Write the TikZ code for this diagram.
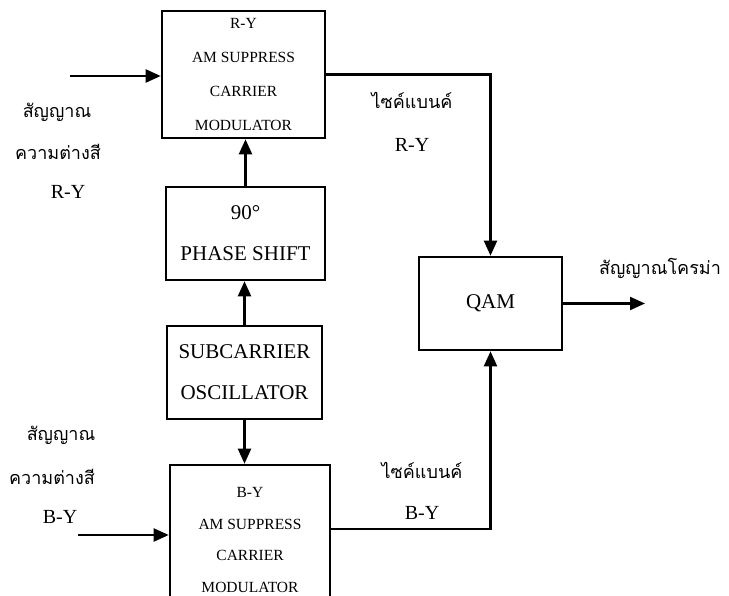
\documentclass[tikz,border=0pt]{standalone}
\usepackage{fontspec}
\setmainfont{Liberation Serif}
\newfontfamily\thaifont[Script=Thai]{Loma}
\usetikzlibrary{positioning,arrows.meta,calc}
\begin{document}
\begin{tikzpicture}[x=1pt,y=-1pt, >={Triangle[length=15pt,width=13pt]}, line width=2.2pt,
  blk/.style={draw,line width=2.6pt,align=center,inner sep=0pt},
  mod/.style={blk,minimum width=163pt,font=\fontsize{15.5}{34}\selectfont},
  big/.style={blk,font=\fontsize{21}{41}\selectfont},
  th/.style={font=\fontsize{18}{20}\thaifont},
  lt/.style={font=\fontsize{20}{24}\selectfont}]
  \useasboundingbox (0,0) rectangle (729,596);
  \clip (0,0) rectangle (729,596);
  \node[mod,minimum height=127pt](rymod) at (243.5,74.5){R-Y\\AM SUPPRESS\\CARRIER\\MODULATOR};
  \node[big,minimum width=159pt,minimum height=93pt](shift) at (245.5,233.5){90°\\PHASE SHIFT};
  \node[big,minimum width=155pt,minimum height=93pt](osc) at (244.5,372.5){SUBCARRIER\\OSCILLATOR};
  \node[mod,minimum width=160pt,minimum height=150pt,font=\fontsize{15.5}{31.5}\selectfont](bymod) at (250,540){B-Y\\AM SUPPRESS\\CARRIER\\MODULATOR};
  \node[big,minimum width=143pt,minimum height=93pt](qam) at (490.5,303.5){QAM};
  \coordinate(rin) at (70,76); \coordinate(bin) at (78,535);
  \coordinate(byout) at (330,529); \coordinate(cout) at (645,303.5);
  \draw[->](rin)--(rin -| rymod.west);\draw[->](rymod.east)-|(qam.north);
  \draw[->](shift.north)--(shift.north |- rymod.south);\draw[->](osc.north)--(osc.north |- shift.south);
  \draw[->](osc.south)--(osc.south |- bymod.north);\draw[->](bin)--(bin -| bymod.west);
  \draw[->](byout)-|(qam.south);\draw[->](qam.east)--(cout);
  % input labels
  \node[th](rys) at (57,112){สัญญาณ};\node[th](ryd) at (58,152){ความต่างสี};\node[lt](ryt) at (68,192){R-Y};
  \node[th](bys) at (61,435){สัญญาณ};\node[th](byd) at (52,477){ความต่างสี};\node[lt](byt) at (60,517){B-Y};
  % sideband and output labels
  \node[th](rsb) at (412,100){ไซค์แบนค์};\node[lt](rsbt) at (412,145){R-Y};
  \node[th](bsb) at (422,470){ไซค์แบนค์};\node[lt](bsbt) at (422,513){B-Y};
  \node[th](chroma) at (660,268){สัญญาณโครม่า};
\end{tikzpicture}
\end{document}
